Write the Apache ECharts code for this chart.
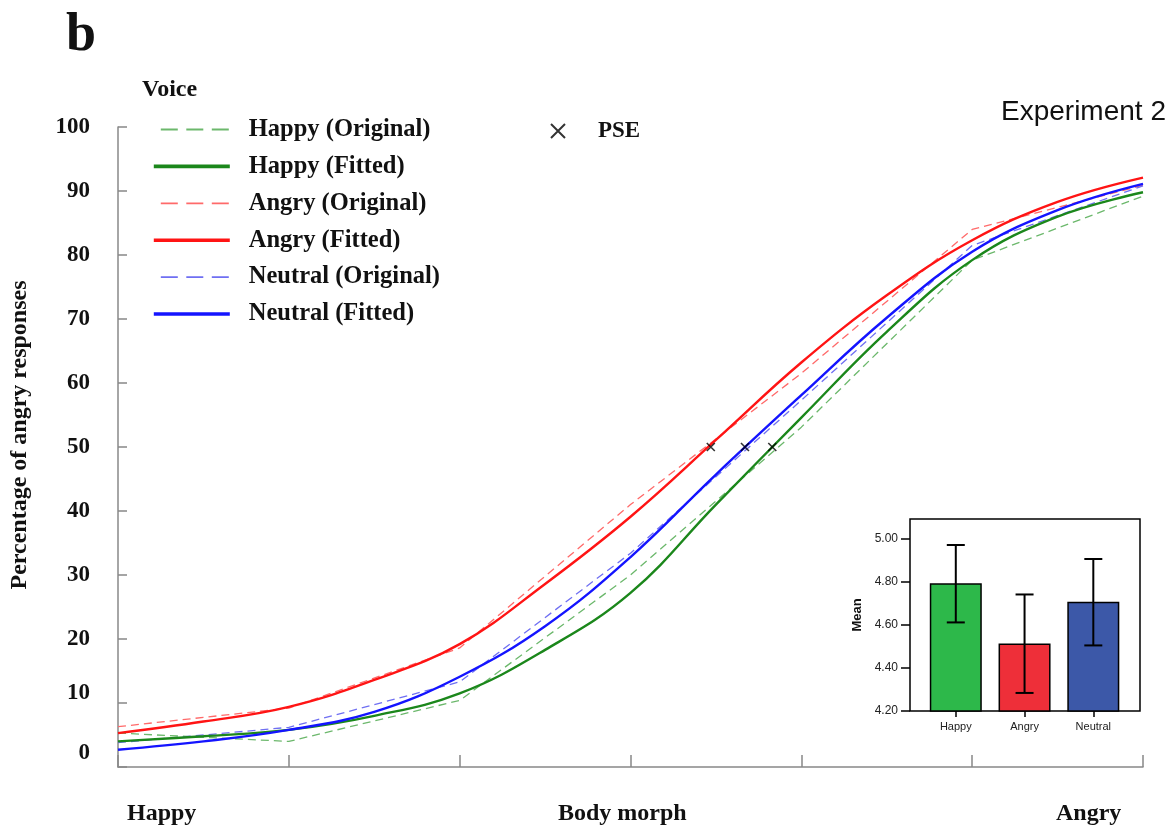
<!DOCTYPE html>
<html>
<head>
<meta charset="utf-8">
<title>Experiment 2</title>
<script src="https://cdn.jsdelivr.net/npm/echarts@6/dist/echarts.min.js"></script>
<style>
  html, body { margin: 0; padding: 0; background: #ffffff; }
  #chart { width: 1176px; height: 832px; }
</style>
</head>
<body>
<div id="chart"></div>
<script>
// morph steps (Happy -> Angry), original data at whole steps
const morphSteps = [0, 1, 2, 3, 4, 5, 6];
const happyOriginal = [5.3, 4.0, 10.4, 30.0, 53.1, 79.2, 89.2];
const angryOriginal = [6.3, 9.2, 18.6, 41.0, 61.5, 84.0, 90.9];
const neutralOriginal = [3.8, 6.2, 13.3, 33.4, 57.3, 81.5, 90.8];

// fitted curves, read at half steps
const fitSteps = [0, 0.5, 1, 1.5, 2, 2.5, 3, 3.5, 4, 4.5, 5, 5.5, 6];
const happyFitted = [4.0, 4.8, 5.8, 8.0, 11.5, 18.3, 27.2, 41.0, 54.6, 68.0, 79.2, 86.0, 89.8];
const angryFitted = [5.3, 7.1, 9.4, 13.6, 19.2, 28.6, 39.1, 51.1, 63.2, 73.7, 82.3, 88.3, 92.1];
const neutralFitted = [2.7, 4.0, 5.8, 8.6, 14.1, 22.0, 32.8, 45.7, 58.1, 70.2, 80.5, 87.0, 91.1];

// points of subjective equality (angry, neutral, happy)
const pseX = [3.47, 3.67, 3.83];
const pseY = [50, 50, 50];

// inset: mean per voice with error bars
const voices = ['Happy', 'Angry', 'Neutral'];
const voiceColors = ['#2db84a', '#ee2f39', '#3c58a8'];
const meanValues = [4.794, 4.514, 4.708];
const ciLow = [4.612, 4.284, 4.505];
const ciHigh = [4.972, 4.742, 4.907];
const meanTicks = [4.2, 4.4, 4.6, 4.8, 5.0];

const serif = 'Liberation Serif';
const sans = 'Liberation Sans';

const zip = (xs, ys) => xs.map((x, i) => [x, ys[i]]);

function origLine(name, color, data) {
  return {
    name: name, type: 'line', xAxisIndex: 0, yAxisIndex: 0,
    data: zip(morphSteps, data), showSymbol: false, symbol: 'none',
    lineStyle: { color: color, width: 1.3, type: [8, 5] },
    itemStyle: { color: color }, z: 2
  };
}
function fitLine(name, color, data) {
  return {
    name: name, type: 'line', xAxisIndex: 0, yAxisIndex: 0,
    data: zip(fitSteps, data), showSymbol: false, symbol: 'none',
    smooth: 0.4,
    lineStyle: { color: color, width: 2.4 },
    itemStyle: { color: color }, z: 3
  };
}

// legend entries: dashed for original data, thick for fitted
const dashedKey = name => ({ name: name, lineStyle: { type: [17, 8.5], dashOffset: 18.5, width: 1.8 } });
const solidKey = name => ({ name: name, lineStyle: { type: 'solid', width: 3.6 } });

const crossPath = 'path://M0,0L10,10M10,0L0,10';

const chart = echarts.init(document.getElementById('chart'));
chart.setOption({
  animation: false,
  backgroundColor: '#ffffff',
  grid: [
    { left: 118, right: 33, top: 127, bottom: 65 },
    { left: 910, right: 36, top: 519, bottom: 121, show: true,
      backgroundColor: '#ffffff', borderColor: '#000', borderWidth: 1.5, z: 5 }
  ],
  xAxis: [
    {
      gridIndex: 0, type: 'value', min: 0, max: 6, interval: 1,
      axisLine: { onZero: false, lineStyle: { color: '#888', width: 1.5 } },
      axisTick: { inside: true, length: 12, lineStyle: { color: '#888', width: 1.5 } },
      axisLabel: { show: false },
      splitLine: { show: false }
    },
    {
      gridIndex: 1, type: 'value', min: -0.666, max: 2.679, z: 6,
      axisLine: { show: false, onZero: false },
      axisTick: { customValues: [0, 1, 2], length: 6, lineStyle: { color: '#000', width: 1.5 } },
      axisLabel: {
        customValues: [0, 1, 2], margin: 10,
        formatter: v => voices[Math.round(v)],
        fontFamily: sans, fontSize: 11, color: '#222'
      },
      splitLine: { show: false }
    }
  ],
  yAxis: [
    {
      gridIndex: 0, type: 'value', min: 0, max: 100, interval: 10,
      axisLine: { show: true, onZero: false, lineStyle: { color: '#888', width: 1.5 } },
      axisTick: { show: true, inside: true, length: 9, lineStyle: { color: '#888', width: 1.5 } },
      axisLabel: {
        margin: 28, fontFamily: serif, fontWeight: 'bold', fontSize: 23, color: '#111',
        // the two lowest labels sit a little above their ticks in the original
        formatter: v => v === 0 ? '{z|0}' : v === 10 ? '{t|10}' : String(v),
        rich: {
          z: { fontFamily: serif, fontWeight: 'bold', fontSize: 23, color: '#111', padding: [0, 0, 27, 0] },
          t: { fontFamily: serif, fontWeight: 'bold', fontSize: 23, color: '#111', padding: [0, 0, 19, 0] }
        }
      },
      splitLine: { show: false }
    },
    {
      gridIndex: 1, type: 'value', min: 4.2, max: 5.093, z: 6,
      name: 'Mean', nameLocation: 'middle', nameGap: 46,
      nameTextStyle: { fontFamily: sans, fontWeight: 'bold', fontSize: 13, color: '#111' },
      axisLine: { show: false, onZero: false },
      axisTick: { show: true, customValues: meanTicks, length: 9, lineStyle: { color: '#000', width: 1.5 } },
      axisLabel: {
        customValues: meanTicks, margin: 12,
        formatter: v => v.toFixed(2),
        fontFamily: sans, fontSize: 12, color: '#222'
      },
      splitLine: { show: false }
    }
  ],
  legend: [
    {
      data: [dashedKey('Happy (Original)'), solidKey('Happy (Fitted)'),
             dashedKey('Angry (Original)'), solidKey('Angry (Fitted)'),
             dashedKey('Neutral (Original)'), solidKey('Neutral (Fitted)')],
      orient: 'vertical', left: 152, top: 117, padding: 0,
      itemWidth: 76, itemHeight: 14, itemGap: 11.9,
      itemStyle: { opacity: 0 },
      selectedMode: false,
      textStyle: { fontFamily: serif, fontWeight: 'bold', fontSize: 24.5, lineHeight: 24,
                   color: '#111', padding: [0, 0, 0, 14] }
    },
    {
      data: [{ name: 'PSE', icon: crossPath }],
      left: 550, top: 119, padding: 0, itemWidth: 14, itemHeight: 14,
      selectedMode: false,
      textStyle: { fontFamily: serif, fontWeight: 'bold', fontSize: 23, lineHeight: 24,
                   color: '#111', padding: [0, 0, 0, 28] }
    }
  ],
  graphic: [
    { type: 'text', left: 66, top: 9,
      style: { text: 'b', font: 'bold 54px "Liberation Serif"', fill: '#111' } },
    { type: 'text', left: 142, top: 78,
      style: { text: 'Voice', font: 'bold 24px "Liberation Serif"', fill: '#111' } },
    { type: 'text', left: 1001, top: 98,
      style: { text: 'Experiment 2', font: '28px "Liberation Sans"', fill: '#111' } },
    { type: 'text', x: 20, y: 435, rotation: Math.PI / 2,
      style: { text: 'Percentage of angry responses', font: 'bold 24px "Liberation Serif"',
               fill: '#111', align: 'center', verticalAlign: 'middle' } },
    { type: 'text', left: 127, top: 802,
      style: { text: 'Happy', font: 'bold 24px "Liberation Serif"', fill: '#111' } },
    { type: 'text', left: 558, top: 802,
      style: { text: 'Body morph', font: 'bold 24px "Liberation Serif"', fill: '#111' } },
    { type: 'text', left: 1056, top: 802,
      style: { text: 'Angry', font: 'bold 24px "Liberation Serif"', fill: '#111' } }
  ],
  series: [
    origLine('Happy (Original)', '#6cb86c', happyOriginal),
    origLine('Angry (Original)', '#ff6a6a', angryOriginal),
    origLine('Neutral (Original)', '#6f6ff2', neutralOriginal),
    fitLine('Happy (Fitted)', '#1b871b', happyFitted),
    fitLine('Angry (Fitted)', '#ff1414', angryFitted),
    fitLine('Neutral (Fitted)', '#1414ff', neutralFitted),
    {
      name: 'PSE', type: 'scatter', xAxisIndex: 0, yAxisIndex: 0,
      data: zip(pseX, pseY), symbol: crossPath, symbolSize: 8,
      itemStyle: { color: '#000', borderColor: '#000', borderWidth: 1.6 },
      z: 4
    },
    {
      name: 'Mean', type: 'bar', xAxisIndex: 1, yAxisIndex: 1,
      barWidth: 52, z: 6,
      data: meanValues.map((v, i) => ({
        value: [i, v],
        itemStyle: { color: voiceColors[i], borderColor: '#000', borderWidth: 1.5 }
      }))
    },
    {
      name: 'CI', type: 'custom', xAxisIndex: 1, yAxisIndex: 1, z: 7,
      data: voices.map((v, i) => [i, ciLow[i], ciHigh[i]]),
      encode: { x: 0, y: [1, 2] },
      renderItem: function (params, api) {
        const x = api.value(0);
        const lo = api.coord([x, api.value(1)]);
        const hi = api.coord([x, api.value(2)]);
        const w = 9;
        const st = { stroke: '#000', lineWidth: 2 };
        return {
          type: 'group',
          children: [
            { type: 'line', shape: { x1: lo[0], y1: lo[1], x2: hi[0], y2: hi[1] }, style: st },
            { type: 'line', shape: { x1: lo[0] - w, y1: lo[1], x2: lo[0] + w, y2: lo[1] }, style: st },
            { type: 'line', shape: { x1: hi[0] - w, y1: hi[1], x2: hi[0] + w, y2: hi[1] }, style: st }
          ]
        };
      }
    }
  ]
});
</script>
</body>
</html>
